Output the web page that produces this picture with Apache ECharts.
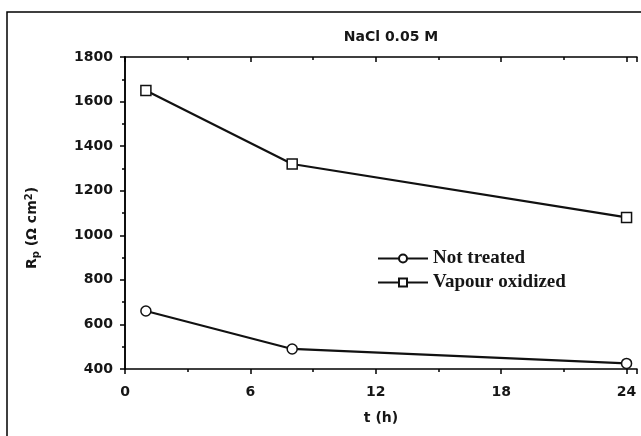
<!DOCTYPE html>
<html>
<head>
<meta charset="utf-8">
<script src="https://cdn.jsdelivr.net/npm/echarts@6/dist/echarts.min.js"></script>
<style>
  html, body { margin: 0; padding: 0; background: #fff; }
  #chart { width: 641px; height: 436px; }
</style>
</head>
<body>
<div id="chart"></div>
<script>
// Polarization resistance vs immersion time in 0.05 M NaCl
const timeHours = [1, 8, 24];
const notTreated = [660, 490, 425];
const vapourOxidized = [1650, 1320, 1080];
const seriesNames = ['Not treated', 'Vapour oxidized'];
const xTicks = [0, 6, 12, 18, 24];
const yTicks = [400, 600, 800, 1000, 1200, 1400, 1600, 1800];

const pairs = (xs, ys) => xs.map((x, i) => [x, ys[i]]);

const SANS = 'DejaVu Sans, Verdana, sans-serif';
const labelFont = { fontFamily: SANS, fontWeight: 'bold', fontSize: 14, color: '#161616' };
const axisLine = { show: true, lineStyle: { color: '#000', width: 1.5 } };
const tickStyle = { color: '#000', width: 1.5 };

const chart = echarts.init(document.getElementById('chart'), null, { renderer: 'canvas' });

chart.setOption({
  backgroundColor: '#fff',
  animation: false,
  title: {
    text: 'NaCl 0.05 M',
    left: 386,
    top: 25,
    textAlign: 'center',
    textStyle: { fontFamily: SANS, fontWeight: 'bold', fontSize: 14, color: '#161616' }
  },
  graphic: [{
    type: 'rect',
    shape: { x: 7, y: 12, width: 640, height: 440 },
    style: { fill: 'none', stroke: '#000', lineWidth: 1.5 },
    silent: true
  }],
  legend: {
    orient: 'vertical',
    left: 372,
    top: 244,
    itemWidth: 50,
    itemHeight: 10,
    itemGap: 5,
    data: seriesNames,
    textStyle: { fontFamily: 'Liberation Serif, Times New Roman, serif', fontWeight: 'bold', fontSize: 19, color: '#161616' }
  },
  grid: { left: 125, right: 4, top: 57, bottom: 67 },
  xAxis: [{
    type: 'value',
    min: 0, max: 24.5, interval: 6,
    name: 't (h)',
    nameLocation: 'middle',
    nameGap: 42,
    nameTextStyle: labelFont,
    axisLine: axisLine,
    axisTick: { show: true, length: 5, lineStyle: tickStyle },
    minorTick: { show: true, splitNumber: 2, length: 3, lineStyle: tickStyle },
    axisLabel: Object.assign({ margin: 16, formatter: v => (xTicks.includes(v) ? String(v) : '') }, labelFont),
    splitLine: { show: false }
  }, {
    type: 'value',
    position: 'top',
    min: 0, max: 24.5, interval: 6,
    axisLine: axisLine,
    axisTick: { show: true, inside: true, length: 5, lineStyle: tickStyle },
    minorTick: { show: true, splitNumber: 2, length: 3, lineStyle: tickStyle },
    axisLabel: { show: false },
    splitLine: { show: false }
  }],
  yAxis: [{
    type: 'value',
    min: 400, max: 1800, interval: 200,
    name: '{r|R}{s|p}{r| (Ω cm}{u|2}{r|)}',
    nameLocation: 'middle',
    nameGap: 84,
    nameRotate: 90,
    nameTextStyle: {
      padding: [0, 30, 0, 0],
      rich: {
        r: { fontFamily: SANS, fontWeight: 'bold', fontSize: 14, color: '#161616' },
        s: { fontFamily: SANS, fontWeight: 'bold', fontSize: 10, color: '#161616', verticalAlign: 'bottom', padding: [7, 0, 0, 0] },
        u: { fontFamily: SANS, fontWeight: 'bold', fontSize: 10, color: '#161616', verticalAlign: 'top', padding: [0, 0, 7, 0] }
      }
    },
    axisLine: axisLine,
    axisTick: { show: true, length: 5, lineStyle: tickStyle },
    minorTick: { show: true, splitNumber: 2, length: 3, lineStyle: tickStyle },
    axisLabel: Object.assign({ margin: 12, formatter: v => (yTicks.includes(v) ? String(v) : '') }, labelFont),
    splitLine: { show: false }
  }, {
    type: 'value',
    position: 'right',
    min: 400, max: 1800, interval: 200,
    axisLine: axisLine,
    axisTick: { show: true, inside: true, length: 5, lineStyle: tickStyle },
    minorTick: { show: true, splitNumber: 2, length: 3, lineStyle: tickStyle },
    axisLabel: { show: false },
    splitLine: { show: false }
  }],
  series: [{
    name: seriesNames[0],
    type: 'line',
    xAxisIndex: 0, yAxisIndex: 0,
    data: pairs(timeHours, notTreated),
    symbol: 'circle',
    symbolSize: 10,
    lineStyle: { color: '#111', width: 2.2 },
    itemStyle: { color: '#fff', borderColor: '#111', borderWidth: 1.5 }
  }, {
    name: seriesNames[1],
    type: 'line',
    xAxisIndex: 0, yAxisIndex: 0,
    data: pairs(timeHours, vapourOxidized),
    symbol: 'rect',
    symbolSize: 10,
    lineStyle: { color: '#111', width: 2.2 },
    itemStyle: { color: '#fff', borderColor: '#111', borderWidth: 1.5 }
  }]
});
</script>
</body>
</html>
